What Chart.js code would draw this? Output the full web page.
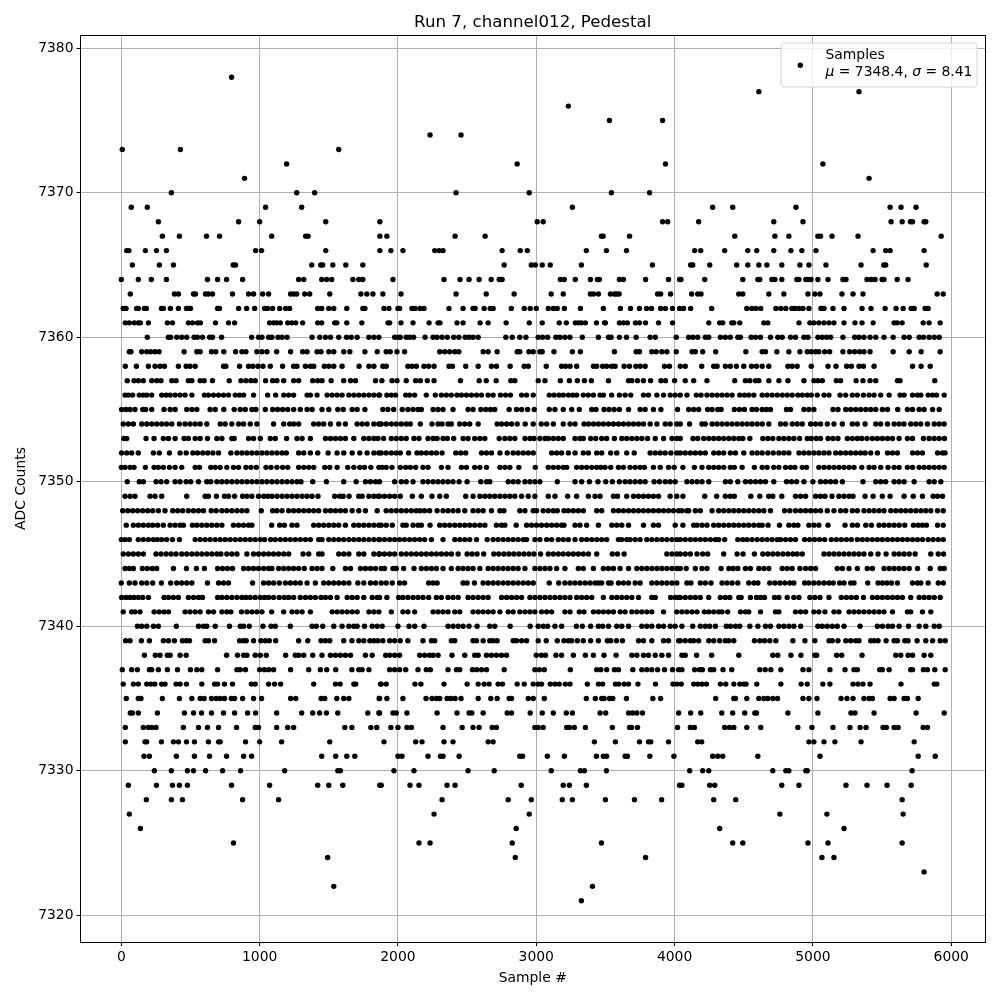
<!doctype html>
<html lang="en">
<head>
    <meta charset="utf-8">
    <title>Run 7, channel012, Pedestal</title>
    <script src="https://cdn.jsdelivr.net/npm/chart.js"></script>
    <style>
        body { margin: 0; background: white; }
        canvas { display: block; }
    </style>
</head>
<body>
    <canvas id="myChart" width="1000" height="1000"></canvas>
    <script>
        // sample numbers, one list per ADC level
        const s7378 = [797];
        const s7377 = [4609,5333];
        const s7376 = [3232];
        const s7375 = [3529,3913];
        const s7374 = [2232,2456];
        const s7373 = [7,427,1572];
        const s7372 = [1195,2862,3934,5072];
        const s7371 = [891,5406];
        const s7370 = [362,1268,1398,2420,2949,3543,3819];
        const s7369 = [72,188,1043,1304,3261,4275,4420,4877,5558,5637,5746];
        const s7368 = [268,848,1000,1478,1869,3007,3050,3913,3950,4174,4717,4928,5565,5645,5705,5720,5804,5816];
        const s7367 = [297,420,616,710,1087,1333,1350,1869,1920,2413,2630,3471,3483,3674,4435,4725,4826,5036,5055,5138,5326,5927];
        const s7366 = [39,55,174,254,326,971,1014,1478,1869,1949,2036,2266,2298,2326,2753,2884,2935,3362,3507,3652,4145,4189,4362,4529,4594,4717,4841,4920,5022,5435,5526,5558,5804];
        const s7365 = [80,275,377,809,826,1377,1442,1456,1529,1623,1746,2768,2964,2993,3043,3101,3326,3840,4116,4131,4254,4449,4529,4609,4667,4775,4906,4971,5094,5348,5512,5526,5819];
        const s7364 = [0,123,217,326,623,696,761,877,1282,1319,1449,1485,1521,1674,1717,1746,1964,2333,2449,2514,2587,2674,2732,2753,3174,3203,3282,3391,3442,3456,3601,3630,3790,3956,4036,4046,4218,4493,4602,4616,4703,4725,4775,4884,4899,4949,4964,4986,5036,5109,5217,5239,5391,5420,5449,5500,5514,5609,5688];
        const s7363 = [65,384,413,522,536,609,630,659,804,920,956,1022,1065,1224,1246,1268,1326,1362,1507,1732,1775,1819,1891,2022,2420,2638,2840,3108,3195,3391,3413,3449,3536,3565,3580,3599,3877,3899,3971,4123,4167,4191,4464,4493,4681,4790,4964,5014,5051,5210,5290,5362,5898,5942];
        const s7362 = [14,34,111,123,167,181,290,304,355,413,471,485,500,696,710,848,906,964,1036,1058,1094,1145,1188,1217,1420,1449,1500,1536,1630,1746,1761,1899,1935,2000,2012,2101,2123,2159,2188,2369,2471,2543,2558,2623,2667,2688,2819,2913,2956,3000,3087,3123,3152,3203,3319,3485,3608,3681,3746,3797,3833,3899,3934,3985,4036,4065,4116,4268,4522,4558,4587,4623,4732,4768,4804,4848,4870,4899,4928,4971,5058,5080,5145,5225,5355,5420,5522,5601,5652,5710,5732,5811,5833];
        const s7361 = [29,58,94,123,138,196,333,370,485,514,551,572,681,775,819,1072,1101,1123,1150,1203,1232,1261,1311,1420,1449,1543,1558,1630,1739,1928,1940,2022,2109,2225,2290,2304,2427,2471,2594,2652,2782,2949,3043,3166,3217,3282,3304,3326,3355,3435,3493,3500,3601,3630,3659,3717,3746,3790,3884,3985,4247,4326,4348,4413,4428,4471,4645,4674,4899,4978,5007,5043,5080,5116,5152,5225,5304,5355,5435,5587,5609,5645,5797,5840,5920];
        const s7360 = [188,340,357,401,437,473,526,550,587,638,659,725,942,992,1017,1065,1089,1133,1162,1198,1379,1434,1476,1512,1572,1628,1662,1705,1790,1826,1862,1976,2000,2017,2060,2085,2113,2196,2254,2283,2319,2357,2403,2440,2486,2514,2543,2580,2780,2826,2881,2925,3014,3046,3082,3142,3171,3207,3243,3333,3449,3522,3541,3601,3652,3722,3823,3860,4012,4102,4133,4167,4222,4247,4331,4367,4403,4457,4476,4553,4585,4621,4693,4746,4778,4838,4874,4935,4964,5036,5068,5099,5128,5217,5302,5333,5369,5413,5454,5514,5580,5659,5696,5768,5799,5840,5877,5913];
        const s7359 = [58,70,147,184,213,244,273,454,546,570,652,683,741,826,872,901,980,1017,1053,1123,1224,1311,1343,1415,1444,1500,1536,1608,1652,1761,1850,1915,1944,1993,2048,2302,2338,2374,2411,2440,2616,2652,2717,2862,2881,2947,2978,3026,3043,3128,3261,3319,3565,3722,3746,3835,3867,3908,3944,4012,4126,4150,4203,4297,4515,4633,4657,4739,4826,4906,4959,4988,5019,5043,5085,5121,5217,5266,5302,5338,5369,5413,5580,5696,5782,5920];
        const s7358 = [29,109,196,244,280,312,413,469,497,534,739,756,855,920,951,988,1024,1077,1166,1246,1270,1331,1367,1391,1468,1500,1536,1596,1719,1790,1826,1891,1915,2072,2101,2133,2188,2222,2261,2369,2394,2490,2580,2676,2712,2811,2913,2942,3072,3183,3212,3244,3292,3413,3437,3480,3509,3545,3570,3635,3674,3720,3751,3787,3927,3963,4041,4077,4196,4283,4307,4367,4403,4447,4500,4556,4592,4633,4681,4819,4850,4886,4988,5109,5167,5244,5278,5333,5365,5442,5720,5782,5848];
        const s7357 = [43,92,123,159,220,256,287,365,396,485,510,570,599,659,780,865,901,937,968,1043,1094,1125,1174,1246,1282,1384,1420,1451,1517,1608,1657,1693,1838,1884,1957,1993,2060,2128,2162,2212,2261,2452,2587,2638,2710,2816,2845,3014,3063,3174,3239,3297,3348,3398,3522,3667,3691,3732,3775,3826,3901,3934,4000,4077,4138,4234,4435,4512,4544,4585,4609,4681,4754,4819,4935,5007,5036,5068,5169,5200,5312,5362,5413,5454,5611,5630,5881];
        const s7356 = [27,51,82,130,159,184,220,292,324,353,389,425,461,510,601,630,667,703,739,775,824,855,884,956,1058,1116,1174,1210,1246,1343,1367,1415,1488,1524,1560,1596,1645,1681,1717,1753,1790,1826,1862,1867,1920,1952,1983,2056,2085,2121,2205,2270,2314,2350,2386,2427,2459,2495,2531,2568,2604,2652,2688,2741,2778,2814,2894,2930,2978,3094,3128,3164,3195,3232,3263,3292,3340,3376,3413,3461,3485,3545,3601,3642,3683,3775,3811,3872,3920,3968,4004,4041,4089,4157,4191,4234,4271,4307,4343,4379,4416,4471,4505,4536,4573,4633,4669,4705,4742,4778,4814,4850,4891,4923,4959,4988,5031,5080,5116,5196,5237,5285,5321,5365,5406,5442,5490,5551,5630,5659,5720,5756,5780,5833,5865,5894,5949];
        const s7355 = [2,34,63,99,155,176,220,309,353,389,473,510,546,642,679,741,816,860,896,944,973,1041,1094,1130,1166,1203,1246,1294,1343,1379,1451,1500,1565,1604,1669,1705,1761,1891,1927,1969,2031,2072,2109,2145,2169,2254,2290,2326,2398,2507,2543,2599,2635,2669,2700,2804,2857,2894,2937,2985,3094,3135,3195,3256,3311,3401,3432,3490,3526,3563,3601,3667,3751,3787,3847,3901,4021,4102,4138,4174,4239,4271,4312,4336,4432,4469,4505,4560,4592,4633,4664,4693,4809,4838,4935,4971,5007,5145,5181,5237,5273,5309,5345,5382,5418,5454,5502,5539,5613,5683,5720,5768,5804,5865,5913];
        const s7354 = [14,51,87,147,184,220,256,292,328,365,420,461,497,534,570,618,715,751,799,848,884,932,980,1101,1174,1217,1246,1282,1391,1427,1463,1512,1572,1620,1705,1741,1777,1826,1862,1879,1915,1952,1988,2024,2060,2089,2162,2246,2290,2319,2362,2386,2446,2483,2519,2580,2717,2749,2785,2821,2862,2920,2978,3036,3075,3123,3195,3244,3280,3345,3377,3413,3449,3485,3522,3558,3594,3630,3667,3703,3739,3775,3823,3872,3932,3968,4016,4041,4108,4198,4222,4271,4307,4343,4379,4416,4452,4488,4524,4560,4597,4633,4681,4766,4802,4850,4886,4923,4983,5019,5055,5104,5152,5213,5285,5321,5377,5454,5490,5539,5587,5623,5659,5707,5744,5780,5828,5877,5913,5949];
        const s7353 = [19,39,179,237,304,341,389,454,485,534,570,623,691,727,799,816,920,956,1005,1077,1113,1195,1270,1307,1367,1476,1512,1548,1584,1620,1681,1753,1790,1826,1855,1896,1952,1988,2024,2060,2116,2152,2217,2254,2283,2326,2357,2403,2471,2507,2555,2592,2628,2732,2773,2809,2845,2918,2954,2983,3026,3063,3087,3123,3159,3195,3280,3316,3340,3393,3430,3473,3509,3565,3618,3654,3691,3727,3763,3804,3860,3920,3981,4016,4041,4133,4167,4210,4247,4283,4319,4355,4392,4428,4464,4493,4544,4638,4674,4710,4754,4790,4826,4862,4903,4959,4988,5024,5055,5109,5145,5181,5249,5285,5321,5353,5391,5430,5466,5502,5539,5575,5623,5683,5720,5799,5840,5877,5913,5951];
        const s7352 = [2,39,75,123,232,275,348,425,469,517,551,589,625,662,703,792,836,872,908,944,980,1017,1053,1089,1125,1162,1193,1282,1319,1367,1420,1495,1560,1608,1669,1724,1777,1826,1862,1879,1915,1952,1988,2017,2077,2138,2169,2205,2242,2278,2319,2418,2454,2490,2604,2640,2676,2737,2790,2833,2869,2906,2942,2978,3111,3147,3183,3232,3280,3340,3377,3437,3473,3538,3582,3654,3708,3823,3860,3896,3932,3973,4016,4041,4077,4114,4150,4186,4222,4283,4319,4355,4403,4440,4500,4560,4597,4633,4674,4713,4754,4790,4826,4899,4935,4971,5007,5043,5080,5116,5164,5200,5237,5273,5309,5345,5377,5418,5466,5539,5575,5611,5720,5756,5792,5901,5937,5955];
        const s7351 = [0,27,63,92,174,237,268,304,348,389,437,534,565,647,679,715,763,811,848,901,937,976,1046,1082,1125,1166,1203,1282,1319,1355,1391,1471,1507,1560,1637,1681,1724,1758,1804,1862,1886,1915,1957,2017,2056,2089,2128,2181,2217,2314,2362,2459,2495,2555,2592,2640,2737,2773,2809,2874,2993,3087,3123,3159,3195,3220,3292,3328,3364,3401,3437,3466,3497,3538,3594,3630,3678,3715,3751,3782,3847,3896,3956,3997,4060,4143,4198,4247,4283,4319,4355,4403,4432,4488,4577,4633,4669,4717,4754,4802,4838,4870,4923,4954,5043,5080,5116,5152,5188,5225,5261,5297,5353,5406,5442,5490,5543,5587,5623,5683,5720,5768,5804,5840,5877,5913,5949];
        const s7350 = [43,130,159,251,287,328,389,425,469,502,558,618,647,691,727,763,799,836,872,908,944,980,1017,1053,1089,1125,1162,1198,1234,1270,1299,1384,1483,1608,1698,1765,1801,1838,1867,1976,2024,2060,2109,2181,2217,2254,2290,2326,2362,2398,2442,2500,2599,2640,2664,2797,2833,2869,2918,2954,2990,3026,3152,3280,3328,3384,3446,3502,3550,3601,3642,3678,3715,3751,3787,3852,3891,3932,3968,4004,4089,4126,4162,4198,4247,4367,4403,4457,4512,4548,4585,4621,4657,4717,4809,4845,4882,4935,5000,5055,5092,5128,5164,5213,5362,5454,5490,5526,5587,5623,5659,5732,5840,5877,5925];
        const s7349 = [27,63,99,208,244,292,473,606,630,688,746,775,819,877,908,944,992,1029,1058,1089,1125,1162,1198,1234,1270,1307,1343,1379,1422,1543,1579,1604,1647,1717,1741,1790,1826,1857,1867,1903,1940,1976,2017,2104,2169,2246,2302,2350,2490,2543,2592,2628,2664,2700,2737,2773,2809,2845,2894,2942,2990,3087,3135,3227,3292,3377,3425,3461,3558,3587,3654,3703,3739,3775,3811,3847,3884,3968,4016,4060,4218,4304,4367,4403,4432,4551,4616,4681,4710,4775,4874,4911,4947,5019,5055,5087,5138,5188,5225,5261,5290,5377,5435,5502,5558,5659,5725,5792,5869,5901,5937];
        const s7348 = [10,46,82,118,155,191,227,268,316,372,408,444,485,522,558,594,650,686,727,763,799,836,872,908,1012,1094,1125,1162,1210,1246,1282,1319,1355,1391,1427,1476,1512,1548,1584,1620,1669,1717,1765,1850,1915,1952,1988,2024,2060,2097,2133,2162,2193,2229,2283,2326,2362,2398,2435,2483,2543,2580,2616,2676,2737,2766,2881,2918,2978,3002,3050,3087,3123,3152,3200,3232,3268,3304,3340,3437,3473,3558,3594,3630,3667,3703,3739,3775,3811,3847,3884,3920,3956,3992,4029,4053,4089,4102,4150,4186,4271,4319,4355,4392,4428,4464,4500,4536,4573,4609,4645,4693,4795,4833,4874,4911,4947,4983,5019,5055,5104,5152,5200,5237,5285,5321,5369,5406,5442,5478,5514,5563,5599,5635,5671,5707,5744,5780,5816,5852,5901,5942];
        const s7347 = [36,87,123,159,196,227,263,304,353,389,425,449,514,546,582,618,654,691,727,811,848,884,920,944,1087,1145,1179,1234,1270,1391,1427,1463,1500,1536,1572,1620,1681,1717,1753,1790,1826,1862,1879,1915,1959,2036,2060,2109,2145,2169,2232,2302,2338,2374,2411,2447,2483,2519,2555,2592,2628,2712,2749,2773,2855,2930,2966,3002,3038,3075,3111,3147,3183,3200,3280,3316,3364,3449,3546,3582,3618,3667,3775,3847,3884,4004,4060,4138,4162,4198,4234,4283,4319,4355,4392,4428,4464,4500,4536,4573,4609,4633,4676,4758,4826,4862,4891,4971,5007,5043,5109,5232,5285,5321,5382,5423,5478,5514,5551,5587,5623,5664,5727,5761,5792,5821,5901,5942];
        const s7346 = [0,27,58,123,159,196,232,261,292,328,370,420,534,570,606,642,679,715,751,787,824,860,896,932,968,1005,1036,1080,1113,1150,1186,1222,1258,1294,1331,1367,1427,1451,1500,1536,1572,1608,1645,1681,1717,1753,1790,1826,1862,1867,1903,1940,1976,2012,2048,2085,2121,2157,2193,2242,2326,2411,2447,2483,2519,2568,2645,2688,2724,2761,2797,2833,2869,2906,2930,2990,3026,3075,3111,3159,3195,3232,3280,3328,3364,3401,3437,3473,3509,3594,3618,3654,3678,3715,3751,3799,3835,3872,3908,3944,3981,4016,4041,4077,4114,4150,4186,4222,4259,4295,4319,4362,4457,4493,4524,4560,4597,4633,4669,4705,4742,4766,4802,4838,4874,4940,4976,5012,5048,5085,5133,5169,5205,5242,5278,5321,5357,5393,5430,5466,5502,5539,5575,5611,5647,5683,5720,5756,5792,5833,5869,5906,5942];
        const s7345 = [14,51,87,123,159,251,287,324,360,396,437,473,510,546,582,618,654,691,720,763,799,836,908,956,992,1029,1065,1101,1137,1174,1210,1314,1355,1427,1451,1572,1608,1645,1717,1753,1826,1862,1867,1903,1940,1976,2024,2060,2097,2133,2169,2205,2242,2278,2314,2350,2386,2435,2500,2536,2572,2620,2693,2729,2766,2802,2838,2874,2911,2947,2983,3031,3087,3123,3159,3195,3232,3268,3304,3340,3377,3437,3550,3587,3635,3944,3981,4016,4041,4077,4114,4162,4203,4239,4355,4452,4495,4577,4638,4674,4710,4746,4783,4819,4855,4886,4923,5080,5116,5152,5188,5225,5261,5297,5333,5369,5418,5471,5529,5587,5623,5659,5696,5739,5852,5906,5944];
        const s7344 = [27,58,87,152,188,225,256,377,471,543,601,696,732,768,804,884,920,956,992,1029,1065,1089,1137,1174,1210,1246,1282,1323,1379,1415,1451,1529,1620,1657,1729,1765,1801,1838,1879,1903,1964,1988,2041,2116,2169,2205,2242,2278,2326,2386,2435,2471,2507,2543,2592,2652,2688,2724,2761,2797,2833,2869,2918,2990,3026,3063,3099,3147,3207,3304,3340,3413,3485,3522,3558,3606,3667,3727,3763,3799,3835,3872,3908,3944,3981,4016,4041,4084,4150,4198,4234,4336,4392,4423,4457,4512,4548,4609,4645,4681,4778,4814,4850,4906,4947,4983,5019,5176,5213,5261,5321,5393,5430,5514,5551,5587,5623,5659,5696,5756,5848,5920,5949];
        const s7343 = [0,58,99,147,184,227,290,357,401,437,473,510,623,703,739,775,949,1029,1065,1101,1142,1186,1222,1258,1294,1343,1403,1463,1500,1536,1572,1608,1645,1710,1753,1801,1838,1879,1915,1959,2012,2048,2222,2254,2283,2471,2500,2553,2616,2652,2688,2724,2761,2797,2833,2869,2906,2942,2978,3094,3162,3207,3244,3280,3316,3353,3389,3425,3449,3473,3522,3541,3594,3630,3667,3715,3751,3835,3872,3908,3944,3981,4016,4089,4118,4186,4222,4263,4343,4379,4416,4457,4536,4573,4602,4688,4725,4761,4797,4833,4862,4940,4971,5007,5043,5080,5116,5147,5193,5225,5273,5297,5396,5471,5502,5534,5568,5611,5720,5756,5780,5833,5906,5942];
        const s7342 = [2,34,63,92,123,155,196,309,341,377,413,485,522,558,587,696,727,763,799,836,872,901,932,968,1005,1036,1065,1101,1142,1179,1210,1246,1294,1331,1367,1403,1444,1476,1512,1560,1633,1669,1705,1753,1814,1850,1867,1920,2005,2036,2072,2109,2145,2181,2222,2278,2314,2362,2398,2435,2507,2543,2580,2616,2652,2749,2785,2821,2857,2894,2954,2990,3026,3063,3099,3135,3171,3207,3244,3292,3328,3364,3401,3485,3546,3582,3618,3654,3691,3739,3835,3860,3971,4004,4029,4041,4077,4114,4150,4186,4247,4331,4367,4399,4464,4481,4548,4592,4621,4650,4722,4754,4814,4862,4899,4978,5014,5051,5116,5205,5242,5278,5314,5365,5430,5466,5502,5539,5575,5611,5647,5707,5768,5804,5840,5877,5920];
        const s7341 = [14,75,99,135,237,273,309,341,461,497,534,570,630,667,727,763,792,869,908,944,980,1017,1087,1174,1234,1270,1307,1367,1524,1560,1596,1633,1669,1705,1790,1826,1862,1952,2036,2072,2121,2254,2290,2326,2362,2411,2447,2543,2580,2616,2652,2688,2737,2797,2833,2881,2918,2954,2990,3038,3075,3111,3207,3244,3311,3345,3413,3449,3485,3522,3558,3606,3642,3691,3727,3763,3799,3835,3920,4016,4053,4089,4126,4162,4215,4247,4283,4319,4343,4384,4476,4512,4536,4621,4729,4754,4874,4911,4947,5007,5043,5087,5152,5188,5261,5297,5333,5369,5406,5442,5478,5514,5575,5683,5707,5792,5852];
        const s7340 = [116,147,184,232,268,398,558,594,618,679,782,860,884,925,1024,1082,1113,1222,1379,1410,1456,1536,1596,1645,1681,1705,1758,1814,1850,1886,2000,2080,2121,2188,2362,2398,2435,2471,2514,2572,2664,2700,2811,2956,3014,3050,3082,3135,3183,3290,3333,3393,3449,3480,3522,3582,3618,3667,3763,3799,3835,3884,3920,3968,4004,4053,4131,4186,4222,4254,4295,4374,4403,4440,4471,4544,4602,4657,4693,4754,4790,4826,4862,4911,5036,5068,5104,5140,5176,5225,5341,5466,5502,5543,5575,5623,5691,5768,5816,5877,5913];
        const s7339 = [31,63,145,203,304,341,384,442,469,493,606,630,674,855,884,903,956,1009,1041,1070,1116,1282,1348,1444,1476,1507,1608,1667,1717,1753,1797,1826,1855,1891,1940,1976,2017,2072,2181,2242,2266,2386,2411,2543,2568,2616,2664,2688,2717,2833,2857,2894,2930,3014,3072,3152,3200,3232,3256,3297,3340,3393,3449,3514,3538,3580,3623,3739,3775,3835,3920,3956,4029,4041,4077,4114,4138,4174,4247,4283,4326,4367,4392,4428,4577,4616,4650,4688,4732,4855,4942,5014,5116,5140,5181,5237,5273,5309,5333,5418,5442,5471,5529,5587,5611,5664,5688,5753,5816,5865,5920,5956];
        const s7338 = [167,246,280,333,353,425,469,761,840,884,908,968,1005,1048,1188,1258,1282,1319,1384,1451,1512,1548,1584,1620,1657,1765,1814,1911,1940,1976,2012,2157,2193,2229,2254,2290,2391,2483,2555,2580,2640,2676,2712,2749,2785,3000,3038,3067,3142,3183,3268,3355,3413,3490,3577,3691,3727,3775,3811,3860,3908,3956,4053,4077,4159,4268,4464,4710,4746,4841,4913,5014,5027,5171,5208,5355,5599,5635,5688,5720,5804,5852];
        const s7337 = [7,75,116,203,220,268,333,406,500,546,582,696,836,860,898,1000,1034,1065,1101,1224,1355,1439,1485,1550,1667,1717,1741,1790,1940,1976,2012,2056,2145,2205,2234,2362,2423,2447,2539,2568,2604,2640,2768,2990,3022,3058,3246,3437,3466,3509,3565,3594,3698,3763,3799,3835,3877,3927,3985,4029,4053,4145,4181,4201,4259,4283,4350,4413,4616,4655,4696,4768,4928,4971,5123,5232,5297,5321,5483,5502,5551,5707,5720,5799,5828,5881,5956];
        const s7336 = [14,87,123,184,213,242,292,316,396,425,471,582,674,696,746,804,940,968,1065,1108,1152,1391,1548,1582,1681,1695,1874,1879,1915,2123,2166,2333,2500,2580,2623,2659,2724,2756,2862,2913,2978,3014,3038,3101,3135,3166,3210,3244,3369,3449,3480,3572,3596,3635,3667,3735,3862,3988,4016,4048,4138,4167,4198,4230,4331,4370,4428,4471,4500,4517,4594,4768,4915,4959,5072,5123,5290,5326,5362,5413,5637,5877,5896];
        const s7335 = [36,123,142,297,420,510,570,599,652,686,715,746,795,819,877,956,1014,1224,1261,1444,1471,1558,1608,1645,1864,1867,1920,2036,2203,2246,2278,2302,2355,2382,2413,2456,2580,2671,2717,2804,2821,2942,2978,3058,3362,3427,3473,3490,3529,3553,3652,3843,3899,4297,4428,4440,4522,4609,4645,4674,4710,4744,4928,4971,5029,5203,5246,5290,5369,5406,5430,5558,5587,5659,5683,5761];
        const s7334 = [65,80,123,261,456,522,580,652,739,819,913,971,1123,1304,1384,1434,1483,1565,1782,1862,1867,1964,1988,2065,2283,2427,2514,2534,2616,2790,2821,2956,3043,3123,3217,3261,3461,3502,3667,3696,3727,3768,4029,4116,4189,4341,4420,4507,4580,4592,4819,5036,5275,5304,5442,5746,5949];
        const s7333 = [29,159,196,220,251,449,558,623,703,833,968,992,1123,1203,1246,1616,1667,1804,1847,1949,2000,2065,2097,2326,2464,2543,2587,2681,2712,2990,3014,3050,3220,3239,3275,3355,3550,3674,3689,3732,4021,4114,4143,4362,4396,4428,4522,4623,4891,4993,5145,5268,5341,5384,5507,5531,5587,5616,5797,5828];
        const s7332 = [29,171,184,290,377,413,471,529,630,703,715,898,1000,1159,1507,1899,2128,2174,2333,2398,2652,2688,3420,3572,3746,3811,3828,3956,4167,4196,4971,5007,5080,5159,5348,5732];
        const s7331 = [164,203,398,529,638,761,884,942,1449,1550,1630,1688,2000,2029,2217,2307,2326,2442,2881,2901,3080,3203,3435,3485,3509,3642,3659,3821,3995,4275,4312,4348,4602,5051,5761,5884];
        const s7330 = [239,362,478,522,609,732,862,1181,1565,1584,1971,2116,2507,2696,3108,3319,3348,3507,4109,4203,4247,4710,4804,4826,4949,4959,5717];
        const s7329 = [51,254,370,420,478,797,1072,1420,1500,1601,1869,1879,2087,2152,2355,2413,2891,3195,3239,3362,4036,4053,4254,4290,4775,4899,5239,5391,5536,5710];
        const s7328 = [181,362,442,877,1137,2319,2797,2964,3188,3261,3500,3710,3906,4283,4442,5645];
        const s7327 = [58,2261,2949,4761,5101,5652];
        const s7326 = [138,2855,4326,5225];
        const s7325 = [811,2152,2232,2826,3471,4420,4493,4964,5109,5645];
        const s7324 = [1492,2848,3790,5065,5152];
        const s7323 = [5804];
        const s7322 = [1536,3406];
        const s7321 = [3326];

        const adcLevels = [7378,7377,7376,7375,7374,7373,7372,7371,7370,7369,7368,7367,7366,7365,7364,7363,7362,7361,7360,7359,7358,7357,7356,7355,7354,7353,7352,7351,7350,7349,7348,7347,7346,7345,7344,7343,7342,7341,7340,7339,7338,7337,7336,7335,7334,7333,7332,7331,7330,7329,7328,7327,7326,7325,7324,7323,7322,7321];
        const levelSamples = [s7378,s7377,s7376,s7375,s7374,s7373,s7372,s7371,s7370,s7369,s7368,s7367,s7366,s7365,s7364,s7363,s7362,s7361,s7360,s7359,s7358,s7357,s7356,s7355,s7354,s7353,s7352,s7351,s7350,s7349,s7348,s7347,s7346,s7345,s7344,s7343,s7342,s7341,s7340,s7339,s7338,s7337,s7336,s7335,s7334,s7333,s7332,s7331,s7330,s7329,s7328,s7327,s7326,s7325,s7324,s7323,s7322,s7321];

        const xTickValues = [0,1000,2000,3000,4000,5000,6000];
        const yTickValues = [7320,7330,7340,7350,7360,7370,7380];

        const points = [];
        adcLevels.forEach((level, i) => {
            levelSamples[i].forEach(sample => points.push({ x: sample, y: level }));
        });

        const FONT = '"DejaVu Sans"';
        const FIXED_LEFT = 80.5, FIXED_BOTTOM = 58;

        // chart.js only has the left and bottom axis lines, draw the full frame instead
        const axesFrame = {
            id: 'axesFrame',
            afterDatasetsDraw(chart) {
                const a = chart.chartArea, ctx = chart.ctx;
                ctx.save();
                ctx.strokeStyle = 'black';
                ctx.lineWidth = 1;
                ctx.strokeRect(Math.floor(a.left) + 0.5, Math.floor(a.top) + 0.5, Math.round(a.right - a.left), Math.round(a.bottom - a.top));
                ctx.restore();
            }
        };

        // the legend has mixed italic text, so it is drawn by hand
        const sampleLegend = {
            id: 'sampleLegend',
            afterDraw(chart) {
                const ctx = chart.ctx;
                ctx.save();
                ctx.beginPath();
                ctx.roundRect(781, 43, 196, 44, 3);
                ctx.fillStyle = 'rgba(255,255,255,0.8)';
                ctx.fill();
                ctx.strokeStyle = 'rgba(204,204,204,0.8)';
                ctx.lineWidth = 1;
                ctx.stroke();

                ctx.beginPath();
                ctx.arc(800.3, 65.3, 2.7, 0, Math.PI * 2);
                ctx.fillStyle = 'black';
                ctx.fill();

                ctx.textBaseline = 'alphabetic';
                ctx.font = '13.9px ' + FONT;
                ctx.fillText('Samples', 825.5, 59);
                let x = 825.5;
                const parts = [['italic', '\u03bc'], ['normal', ' = 7348.4, '], ['italic', '\u03c3'], ['normal', ' = 8.41']];
                parts.forEach(p => {
                    ctx.font = p[0] + ' 13.9px ' + FONT;
                    ctx.fillText(p[1], x, 76);
                    x += ctx.measureText(p[1]).width;
                });
                ctx.restore();
            }
        };

        new Chart('myChart', {
            type: 'scatter',
            data: {
                datasets: [{
                    label: 'Samples',
                    data: points,
                    backgroundColor: 'black',
                    borderWidth: 0,
                    pointRadius: 2.7,
                    pointHoverRadius: 2.7
                }]
            },
            options: {
                responsive: false,
                animation: false,
                layout: { padding: { left: 0, right: 15, top: 0, bottom: 0 } },
                plugins: {
                    legend: { display: false },
                    tooltip: { enabled: false },
                    title: {
                        display: true,
                        text: 'Run 7, channel012, Pedestal',
                        color: 'black',
                        fullSize: false,
                        font: { family: FONT, size: 16.67, weight: 'normal' },
                        padding: { top: 13, bottom: 2 }
                    }
                },
                scales: {
                    x: {
                        type: 'linear',
                        min: -295,
                        max: 6244,
                        afterFit(scale) { scale.height = FIXED_BOTTOM; },
                        afterBuildTicks(scale) { scale.ticks = xTickValues.map(v => ({ value: v })); },
                        grid: { color: '#b0b0b0', lineWidth: 1, tickColor: 'black', tickLength: 4 },
                        border: { display: false },
                        ticks: {
                            autoSkip: false,
                            color: 'black',
                            maxRotation: 0,
                            padding: 3,
                            callback: value => String(value),
                            font: { family: FONT, size: 13.9 }
                        },
                        title: {
                            display: true,
                            text: 'Sample #',
                            color: 'black',
                            font: { family: FONT, size: 13.9 },
                            padding: { top: 0, bottom: 13 }
                        }
                    },
                    y: {
                        type: 'linear',
                        min: 7318.15,
                        max: 7380.92,
                        afterFit(scale) { scale.width = FIXED_LEFT; },
                        afterBuildTicks(scale) { scale.ticks = yTickValues.map(v => ({ value: v })); },
                        grid: { color: '#b0b0b0', lineWidth: 1, tickColor: 'black', tickLength: 4 },
                        border: { display: false },
                        ticks: {
                            autoSkip: false,
                            color: 'black',
                            padding: 3,
                            callback: value => String(value),
                            font: { family: FONT, size: 13.9 }
                        },
                        title: {
                            display: true,
                            text: 'ADC Counts',
                            color: 'black',
                            font: { family: FONT, size: 13.9 },
                            padding: { top: 13, bottom: 0 }
                        }
                    }
                }
            },
            plugins: [axesFrame, sampleLegend]
        });
    </script>
</body>
</html>
